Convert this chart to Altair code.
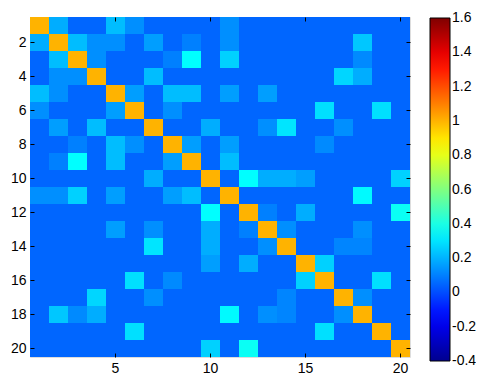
import altair as alt
import pandas as pd

idx = [1, 2, 3, 4, 5, 6, 7, 8, 9, 10, 11, 12, 13, 14, 15, 16, 17, 18, 19, 20]

r1 = [1, .19, .05, .05, .22, .13, .05, .05, .05, .05, .13, .05, .05, .05, .05, .05, .05, .05, .05, .05]
r2 = [.19, 1, .22, .13, .13, .05, .16, .05, .10, .05, .13, .05, .05, .05, .05, .05, .05, .24, .05, .05]
r3 = [.05, .22, 1, .13, .05, .05, .05, .10, .35, .05, .26, .05, .05, .05, .05, .05, .05, .12, .05, .05]
r4 = [.05, .13, .13, 1, .05, .05, .22, .05, .05, .05, .05, .05, .05, .05, .05, .05, .27, .19, .05, .05]
r5 = [.22, .13, .05, .05, 1, .16, .05, .22, .22, .05, .16, .05, .16, .05, .05, .05, .05, .05, .05, .05]
r6 = [.13, .05, .05, .05, .16, 1, .05, .13, .05, .05, .05, .05, .05, .05, .05, .29, .05, .05, .29, .05]
r7 = [.05, .16, .05, .22, .05, .05, 1, .05, .05, .19, .05, .05, .13, .30, .05, .05, .13, .05, .05, .05]
r8 = [.05, .05, .10, .05, .22, .13, .05, 1, .16, .05, .16, .05, .05, .05, .05, .12, .05, .05, .05, .05]
r9 = [.05, .10, .35, .05, .22, .05, .05, .16, 1, .05, .22, .05, .05, .05, .05, .05, .05, .05, .05, .05]
r10 = [.05, .05, .05, .05, .05, .05, .19, .05, .05, 1, .05, .35, .19, .19, .16, .05, .05, .05, .05, .26]
r11 = [.13, .13, .26, .05, .16, .05, .05, .16, .22, .05, 1, .05, .05, .05, .05, .05, .05, .34, .05, .05]
r12 = [.05, .05, .05, .05, .05, .05, .05, .05, .05, .35, .05, 1, .10, .05, .19, .05, .05, .05, .05, .37]
r13 = [.05, .05, .05, .05, .16, .05, .13, .05, .05, .19, .05, .10, 1, .13, .05, .05, .05, .13, .05, .05]
r14 = [.05, .05, .05, .05, .05, .05, .30, .05, .05, .19, .05, .05, .13, 1, .05, .05, .11, .11, .05, .05]
r15 = [.05, .05, .05, .05, .05, .05, .05, .05, .05, .16, .05, .19, .05, .05, 1, .26, .05, .05, .05, .05]
r16 = [.05, .05, .05, .05, .05, .29, .05, .12, .05, .05, .05, .05, .05, .05, .26, 1, .05, .05, .29, .05]
r17 = [.05, .05, .05, .27, .05, .05, .13, .05, .05, .05, .05, .05, .05, .11, .05, .05, 1, .13, .05, .05]
r18 = [.05, .24, .12, .19, .05, .05, .05, .05, .05, .05, .34, .05, .13, .11, .05, .05, .13, 1, .05, .05]
r19 = [.05, .05, .05, .05, .05, .29, .05, .05, .05, .05, .05, .05, .05, .05, .05, .29, .05, .05, 1, .05]
r20 = [.05, .05, .05, .05, .05, .05, .05, .05, .05, .26, .05, .37, .05, .05, .05, .05, .05, .05, .05, 1]

rows = [r1, r2, r3, r4, r5, r6, r7, r8, r9, r10, r11, r12, r13, r14, r15, r16, r17, r18, r19, r20]

x_ticks = [5, 10, 15, 20]
y_ticks = [2, 4, 6, 8, 10, 12, 14, 16, 18, 20]
cbar_ticks = [-0.4, -0.2, 0, 0.2, 0.4, 0.6, 0.8, 1, 1.2, 1.4, 1.6]

# colour limits -0.4 .. 1.6 (tiny margin keeps end labels centred on the bar ends)
jet_domain = [-0.4002, -0.15, 0.35, 0.85, 1.35, 1.6002]
jet_range = ["#00008F", "#0000FF", "#00FFFF", "#FFFF00", "#FF0000", "#800000"]

recs = []
for i, row in zip(idx, rows):
    for j, v in zip(idx, row):
        recs.append({"row": i, "col": j, "value": v})
df = pd.DataFrame(recs)

FONT = "Liberation Sans"
FS = 14

def ax(orient, values, labels=True, pad=4):
    kw = dict(orient=orient, values=values, domain=False, ticks=True, tickSize=4,
              tickColor="black", tickWidth=1, grid=False, title=None, offset=-4,
              labels=labels, labelFont=FONT, labelFontSize=FS, labelColor="black",
              labelAngle=0, labelPadding=pad)
    return alt.Axis(**kw)

xscale = alt.Scale(domain=idx, paddingInner=0, paddingOuter=0)
yscale = alt.Scale(domain=idx, paddingInner=0, paddingOuter=0)
jet = alt.Scale(type="linear", domain=jet_domain, range=jet_range, interpolate="rgb")

color = alt.Color(
    "value:Q",
    scale=jet,
    legend=alt.Legend(
        type="gradient", title=None, orient="none", legendX=400, legendY=1,
        direction="vertical",
        gradientLength=343, gradientThickness=20, gradientStrokeColor="black",
        gradientStrokeWidth=1, values=cbar_ticks, labelOffset=2, labelFont=FONT,
        labelFontSize=FS, labelColor="black", labelOverlap=False,
        labelExpr="replace(format(datum.value, '.1~f'), '\u2212', '-')", padding=0,
    ),
)

base = alt.Chart(df)

heat = base.mark_rect().encode(
    x=alt.X("col:O", scale=xscale, axis=ax("bottom", x_ticks)),
    y=alt.Y("row:O", scale=yscale, axis=ax("left", y_ticks)),
    color=color,
)

frame_axes = base.mark_rect(opacity=0).encode(
    x=alt.X("col:O", scale=xscale, axis=ax("top", x_ticks, labels=False)),
    y=alt.Y("row:O", scale=yscale, axis=ax("right", y_ticks, labels=False)),
)

chart = alt.layer(heat, frame_axes).resolve_axis(x="independent", y="independent").properties(
    width=380, height=340,
    autosize=alt.AutoSizeParams(type="none"),
    padding={"left": 22, "top": 9, "right": 66, "bottom": 24},
).configure_view(stroke="black", strokeWidth=1).configure(background="white")

chart.save("out.html", embed_options={"renderer": "svg", "actions": False})
